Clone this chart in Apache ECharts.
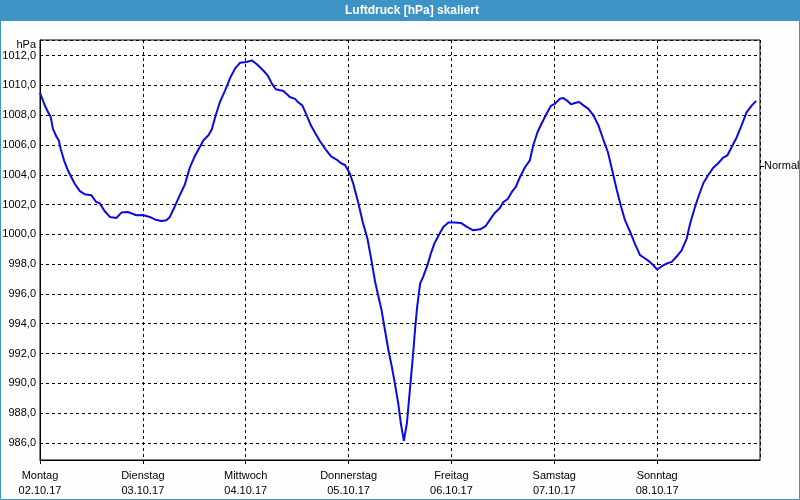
<!DOCTYPE html>
<html>
<head>
<meta charset="utf-8">
<script src="https://cdn.jsdelivr.net/npm/echarts@6/dist/echarts.min.js"></script>
<style>
html,body{margin:0;padding:0;background:#fff;}
#chart{width:800px;height:500px;}
</style>
</head>
<body>
<div id="chart"></div>
<script>
// Hours since Monday 02.10.17 00:00
const hours = [0,1.1,1.9,2.5,3.0,3.8,4.4,4.8,5.6,6.5,7.3,8.1,9.3,10.4,12.0,13.1,13.9,15.1,16.3,17.8,19.0,20.5,22.5,24.0,25.6,26.8,28.3,29.5,30.3,31.4,32.6,33.8,35.0,36.2,37.3,38.1,39.3,40.1,41.0,42.0,43.2,44.3,45.5,46.7,48.2,49.4,50.6,52.1,53.1,54.1,55.0,56.8,58.3,59.5,60.3,61.2,62.2,63.2,64.2,65.3,66.5,67.9,69.2,70.0,71.2,72.3,73.1,74.3,75.3,76.4,77.4,78.2,78.9,79.7,80.5,81.3,82.1,82.8,83.6,84.2,84.9,85.6,86.3,87.0,87.5,88.0,88.7,89.4,90.4,91.2,92.0,92.9,94.1,95.3,96.8,98.2,99.6,101.1,102.7,104.0,105.0,106.0,107.3,108.1,109.1,110.1,111.0,112.0,113.2,114.3,115.1,116.1,117.1,118.2,119.2,120.2,121.3,122.1,122.9,123.9,124.8,125.8,126.8,127.9,129.1,130.3,131.4,132.5,133.6,134.6,135.5,136.5,137.7,138.8,140.0,141.2,142.3,143.1,144.0,145.1,146.2,147.4,148.6,149.7,150.9,151.7,152.6,153.6,154.8,155.9,157.1,158.3,159.4,160.4,161.4,162.6,163.7,164.9,166.1,167.1];
const pressure = [1009.5,1008.67,1008.2,1007.88,1007.1,1006.58,1006.3,1005.76,1004.97,1004.3,1003.85,1003.4,1002.9,1002.7,1002.62,1002.17,1002.1,1001.55,1001.17,1001.1,1001.46,1001.5,1001.28,1001.3,1001.17,1001.0,1000.9,1000.95,1001.17,1001.84,1002.62,1003.35,1004.52,1005.3,1005.87,1006.3,1006.65,1007.05,1008.0,1008.9,1009.67,1010.46,1011.13,1011.53,1011.57,1011.68,1011.42,1011.0,1010.68,1010.12,1009.74,1009.62,1009.22,1009.1,1008.85,1008.66,1008.0,1007.32,1006.8,1006.27,1005.76,1005.24,1005.02,1004.82,1004.64,1004.08,1003.4,1002.07,1000.83,999.72,998.15,996.8,995.91,994.9,993.56,992.22,991.1,989.99,988.64,987.3,986.13,987.3,989.54,991.77,993.56,995.13,996.7,997.14,997.93,998.71,999.38,999.87,1000.5,1000.79,1000.79,1000.77,1000.5,1000.27,1000.34,1000.56,1000.99,1001.4,1001.77,1002.17,1002.36,1002.85,1003.18,1003.85,1004.52,1004.97,1005.98,1006.87,1007.48,1008.1,1008.62,1008.78,1009.11,1009.15,1009.0,1008.73,1008.82,1008.89,1008.66,1008.44,1008.0,1007.32,1006.4,1005.53,1004.19,1002.96,1001.95,1000.95,1000.16,999.38,998.6,998.38,998.15,997.93,997.64,997.86,998.04,998.15,998.53,998.93,999.72,1000.73,1001.62,1002.51,1003.45,1003.97,1004.48,1004.79,1005.15,1005.31,1005.87,1006.54,1007.32,1008.21,1008.66,1008.95];
const dayNames = ['Montag','Dienstag','Mittwoch','Donnerstag','Freitag','Samstag','Sonntag'];
const dayDates = ['02.10.17','03.10.17','04.10.17','05.10.17','06.10.17','07.10.17','08.10.17'];
const yMin = 984.85;
const yMax = 1013.05;
const normalValue = 1004.57;
const titleText = 'Luftdruck [hPa] skaliert';
const unitText = 'hPa';
const normalText = 'Normal';

const FONT = 'Liberation Sans';
const chart = echarts.init(document.getElementById('chart'), null, {renderer: 'canvas'});
const seriesData = hours.map((h, i) => [h, pressure[i]]);

chart.setOption({
  backgroundColor: '#fdfffe',
  animation: false,
  graphic: [
    {type: 'rect', shape: {x: 0, y: 0, width: 800, height: 21}, style: {fill: '#3d92c6'}, z: 0},
    {type: 'rect', shape: {x: 0.5, y: 0.5, width: 799, height: 499}, style: {fill: null, stroke: '#3d92c6', lineWidth: 1}, z: 0},
    {type: 'text', x: 412, y: 11, style: {text: titleText, fill: '#fff', font: 'bold 12px "' + FONT + '"', textAlign: 'center', textVerticalAlign: 'middle'}, z: 1}
  ],
  grid: {left: 40, right: 40, top: 40, bottom: 40, outerBoundsMode: 'none', containLabel: false, show: true, borderColor: '#000', borderWidth: 1, backgroundColor: '#fff'},
  xAxis: {
    type: 'value', min: 0, max: 168, interval: 24,
    axisLine: {show: true, lineStyle: {color: '#000', width: 1}},
    axisTick: {show: true, length: 4, lineStyle: {color: '#000'}},
    splitLine: {show: true, lineStyle: {color: '#000', width: 1, type: [3, 3]}},
    axisLabel: {
      margin: 8, fontFamily: FONT, fontSize: 11, color: '#000', lineHeight: 15,
      showMaxLabel: false,
      formatter: v => { const i = Math.round(v / 24); return i < dayNames.length ? dayNames[i] + '\n' + dayDates[i] : ''; }
    }
  },
  yAxis: [{
    type: 'value', min: yMin, max: yMax, splitNumber: 14,
    name: unitText, nameLocation: 'end', nameGap: -6,
    nameTextStyle: {fontFamily: FONT, fontSize: 11, color: '#000', align: 'right', verticalAlign: 'middle', padding: [0, 4, 0, 0]},
    axisLine: {show: true, lineStyle: {color: '#000', width: 1}},
    axisTick: {show: false},
    splitLine: {show: true, lineStyle: {color: '#000', width: 1, type: [3, 3]}},
    axisLabel: {
      margin: 4, fontFamily: FONT, fontSize: 11, color: '#000',
      formatter: v => (Math.abs(v - Math.round(v)) > 0.01 ? '' : v.toFixed(1).replace('.', ','))
    }
  }, {
    type: 'value', position: 'right', min: yMin, max: yMax,
    axisLine: {show: false},
    splitLine: {show: false},
    axisTick: {show: true, customValues: [normalValue], length: 4, lineStyle: {color: '#000'}},
    axisLabel: {show: true, customValues: [normalValue], margin: 4, fontFamily: FONT, fontSize: 11, color: '#000', formatter: () => normalText}
  }],
  series: [{
    type: 'line', data: seriesData, showSymbol: false, symbol: 'none',
    lineStyle: {color: '#0a0ae6', width: 2}, z: 3
  }]
});
</script>
</body>
</html>
